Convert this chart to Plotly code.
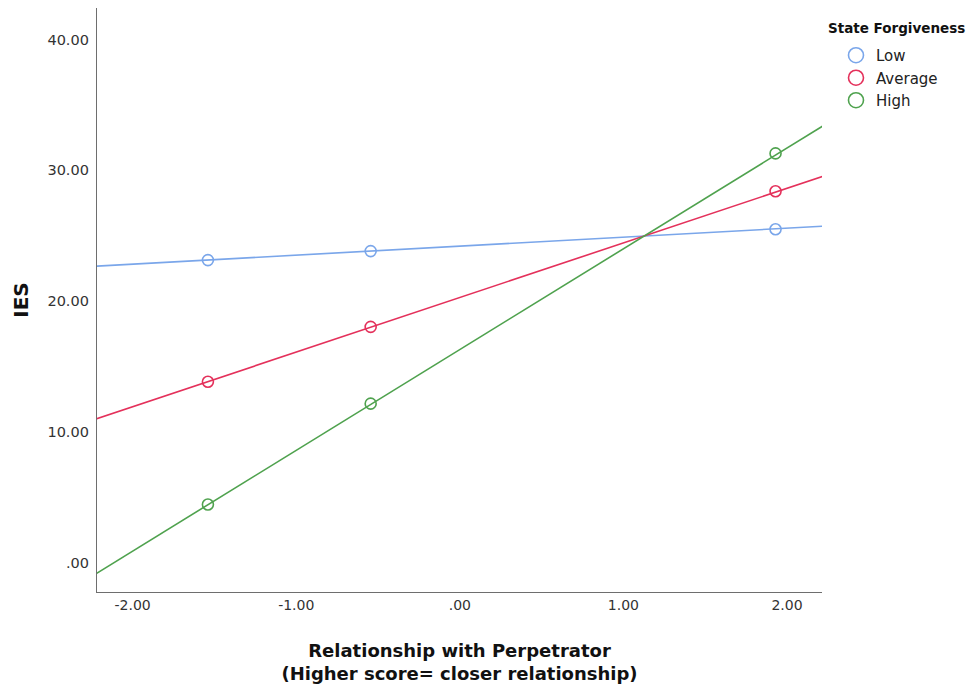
import plotly.graph_objects as go

# Data
x_points = [-1.54, -0.545, 1.93]
low_points = [23.15, 23.84, 25.51]
avg_points = [13.86, 18.05, 28.41]
high_points = [4.49, 12.19, 31.30]

line_x = [-2.22, 2.22]
low_line = [22.69, 25.74]
avg_line = [11.04, 29.55]
high_line = [-0.76, 33.40]

series_names = ["Low", "Average", "High"]
colors = ["#7AA6EA", "#E4315B", "#4FA24E"]

y_tick_vals = [0, 10, 20, 30, 40]
y_tick_text = [".00", "10.00", "20.00", "30.00", "40.00"]
x_tick_vals = [-2, -1, 0, 1, 2]
x_tick_text = ["-2.00", "-1.00", ".00", "1.00", "2.00"]

FONT = "DejaVu Sans"

fig = go.Figure()
for name, col, pts, ln in zip(series_names, colors,
                              [low_points, avg_points, high_points],
                              [low_line, avg_line, high_line]):
    fig.add_trace(go.Scatter(x=line_x, y=ln, mode="lines",
                             line=dict(color=col, width=1.6),
                             showlegend=False, hoverinfo="skip"))
    fig.add_trace(go.Scatter(x=x_points, y=pts, mode="markers",
                             marker=dict(symbol="circle-open", size=11,
                                         color=col, line=dict(width=1.6)),
                             showlegend=False))
    fig.add_trace(go.Scatter(x=[None], y=[None], mode="markers", name=name,
                             marker=dict(symbol="circle-open", size=15,
                                         color=col, line=dict(width=1.6))))

fig.add_annotation(text="<b>State Forgiveness</b>", xref="paper", yref="paper",
                   x=1.0056, y=0.9658, xanchor="left", yanchor="middle",
                   showarrow=False, font=dict(size=13.5, color="#111111"))

fig.update_layout(
    width=968, height=680,
    margin=dict(l=89, r=154, t=0, b=96, autoexpand=False),
    paper_bgcolor="white", plot_bgcolor="white",
    font=dict(family=FONT, color="#222222", size=14),
    xaxis=dict(range=[-2.218, 2.214], tickvals=x_tick_vals, ticktext=x_tick_text,
               showgrid=False, zeroline=False, showline=True, automargin=False,
               linecolor="#6e6e6e", linewidth=1.3, ticks="", ticklen=0,
               tickfont=dict(size=14, color="#333333"),
               title=dict(text="<b>Relationship with Perpetrator<br>(Higher score= closer relationship)</b>",
                          font=dict(size=18, color="#111111"), standoff=32)),
    yaxis=dict(range=[-2.19, 42.4], tickvals=y_tick_vals, ticktext=y_tick_text,
               showgrid=False, zeroline=False, showline=True, automargin=False,
               linecolor="#6e6e6e", linewidth=1.3, ticks="", ticklen=0,
               ticklabelstandoff=4,
               tickfont=dict(size=14.5, color="#333333"),
               title=dict(text="<b>IES</b>", font=dict(size=20, color="#111111"),
                          standoff=13)),
    legend=dict(x=1.0193, y=0.947, xanchor="left", yanchor="top",
                font=dict(size=15, color="#222222"), tracegroupgap=0,
                itemsizing="trace", bgcolor="rgba(0,0,0,0)"),
)

fig.write_html("out.html")
